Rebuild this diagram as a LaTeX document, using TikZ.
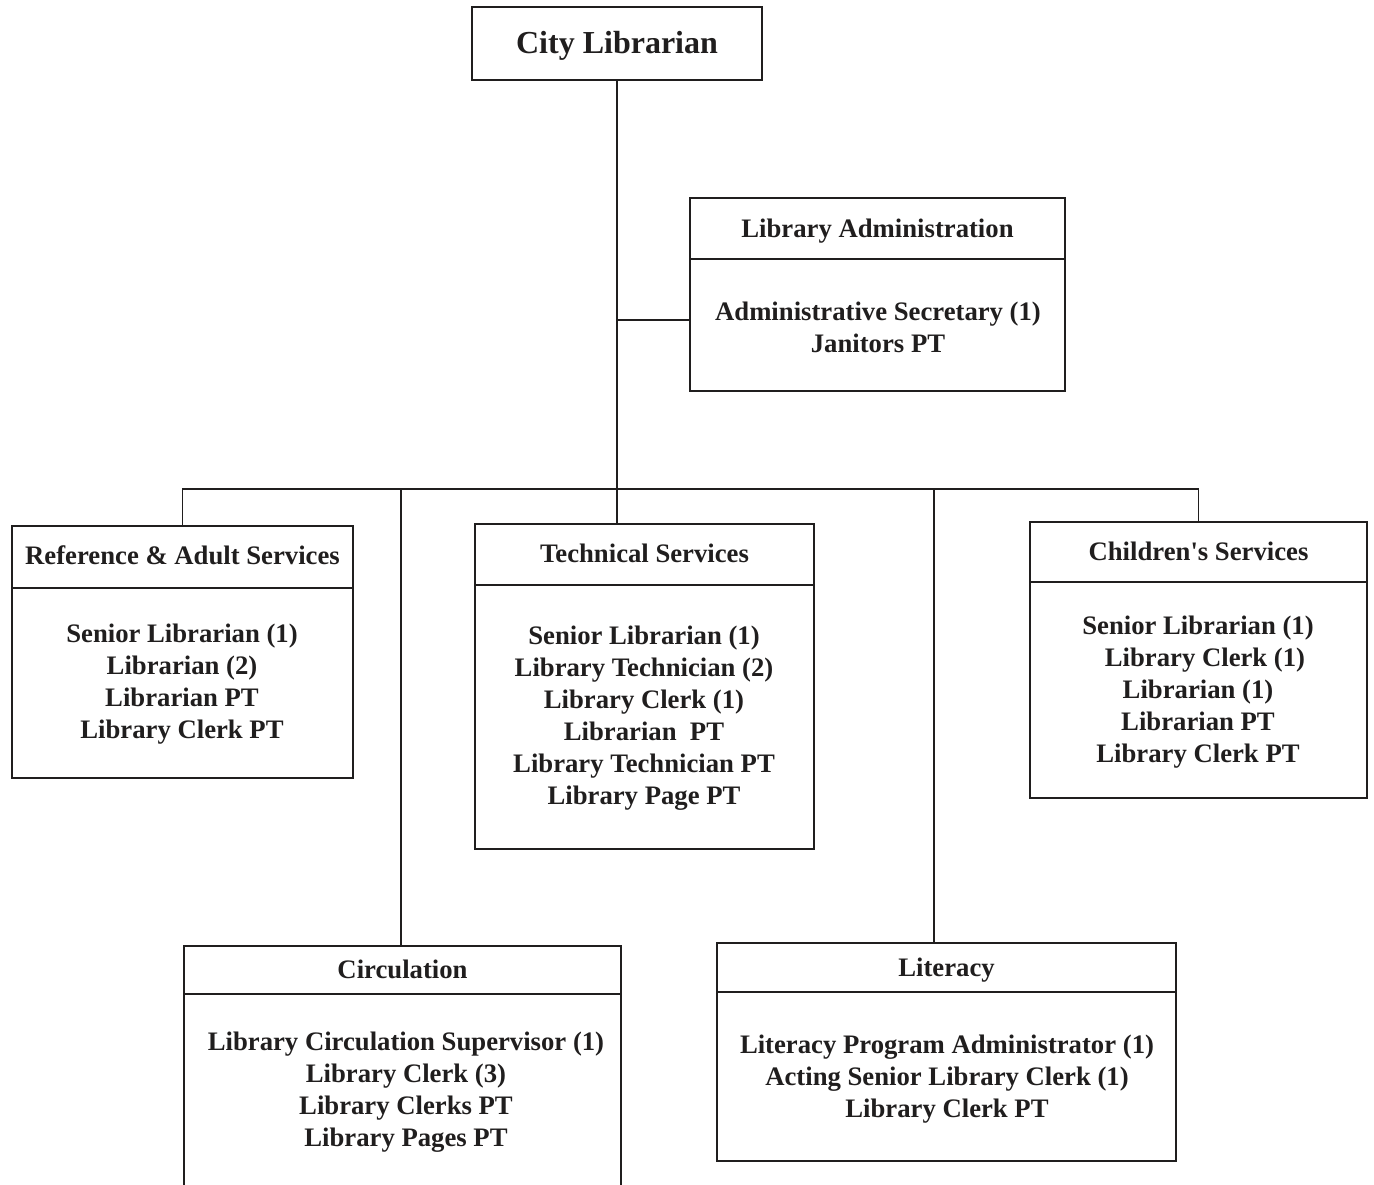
\documentclass[tikz,border=0pt]{standalone}
\usepackage{fontspec}
\setmainfont{Liberation Serif}[Ligatures=TeXOff]
\definecolor{ink}{RGB}{32,30,30}
\begin{document}
\begin{tikzpicture}[x=1pt,y=-1pt,
  line width=1.8pt, draw=ink,
  unitbox/.style={draw=ink, line width=1.8pt, inner sep=0pt, outer sep=0pt},
  title/.style={text=ink, inner sep=0pt, font=\fontsize{26.7}{32}\selectfont\bfseries,
                text height=18.5pt, text depth=5.8pt},
  staff/.style={text=ink, inner sep=0pt, align=center,
                font=\fontsize{26.7}{32}\selectfont\bfseries},
  head/.style={text=ink, inner sep=0pt, font=\fontsize{32}{38}\selectfont\bfseries}]
\useasboundingbox (0,0) rectangle (1374,1184);
\clip (0,0) rectangle (1374,1184);

% City Librarian
\node[unitbox, minimum width=290pt, minimum height=73pt] (city) at (617,43.5) {};
\node[head] (cityT) at (617,46) {City Librarian};

% Library Administration
\node[unitbox, minimum width=375pt, minimum height=193pt] (admin) at (877.5,294.5) {};
\draw (admin.west |- 0,259) -- (admin.east |- 0,259);
\node[title] (adminT) at (877.5,231.5) {Library Administration};
\node[staff] (adminB) at (878,327.5) {Administrative Secretary (1)\\Janitors PT};

% Reference & Adult Services
\node[unitbox, minimum width=341pt, minimum height=252pt] (ref) at (182.5,652) {};
\draw (ref.west |- 0,588) -- (ref.east |- 0,588);
\node[title] (refT) at (182.5,558.5) {Reference \& Adult Services};
\node[staff] (refB) at (182,684) {Senior Librarian (1)\\Librarian (2)\\Librarian PT\\Library Clerk PT};

% Technical Services
\node[unitbox, minimum width=339pt, minimum height=325pt] (tech) at (644.5,686.5) {};
\draw (tech.west |- 0,585) -- (tech.east |- 0,585);
\node[title] (techT) at (644.5,556.5) {Technical Services};
\node[staff] (techB) at (644,718) {Senior Librarian (1)\\Library Technician (2)\\Library Clerk (1)\\Librarian\ \ PT\\Library Technician PT\\Library Page PT};

% Children's Services
\node[unitbox, minimum width=337pt, minimum height=276pt] (child) at (1198.5,660) {};
\draw (child.west |- 0,582) -- (child.east |- 0,582);
\node[title] (childT) at (1198.5,554.5) {Children's Services};
\node[staff] (childB) at (1198,692) {Senior Librarian (1)\\\hspace*{14pt}Library Clerk (1)\\Librarian (1)\\Librarian PT\\Library Clerk PT};

% Circulation
\node[unitbox, minimum width=437pt, minimum height=264pt] (circ) at (402.5,1078) {};
\draw (circ.west |- 0,994) -- (circ.east |- 0,994);
\node[title] (circT) at (402.5,972.5) {Circulation};
\node[staff] (circB) at (406,1092) {Library Circulation Supervisor (1)\\Library Clerk (3)\\Library Clerks PT\\Library Pages PT};

% Literacy
\node[unitbox, minimum width=459pt, minimum height=218pt] (lit) at (946.5,1052) {};
\draw (lit.west |- 0,992) -- (lit.east |- 0,992);
\node[title] (litT) at (946.5,970.5) {Literacy};
\node[staff] (litB) at (947,1079) {Literacy Program Administrator (1)\\Acting Senior Library Clerk (1)\\Library Clerk PT};

% Reporting lines
\coordinate (bus) at (city.south |- 0,489);
\coordinate (adminIn) at (admin.west |- 0,320);
\draw (city.south) -- (bus);
\draw (city.south |- adminIn) -- (adminIn);
\draw (ref.north) |- (bus) -| (child.north);
\draw (bus) -- (bus |- tech.north);
\draw ([xshift=-1.5pt]circ.north) -- ([xshift=-1.5pt]circ.north |- bus);
\draw ([xshift=-12.5pt]lit.north) -- ([xshift=-12.5pt]lit.north |- bus);
\end{tikzpicture}
\end{document}
